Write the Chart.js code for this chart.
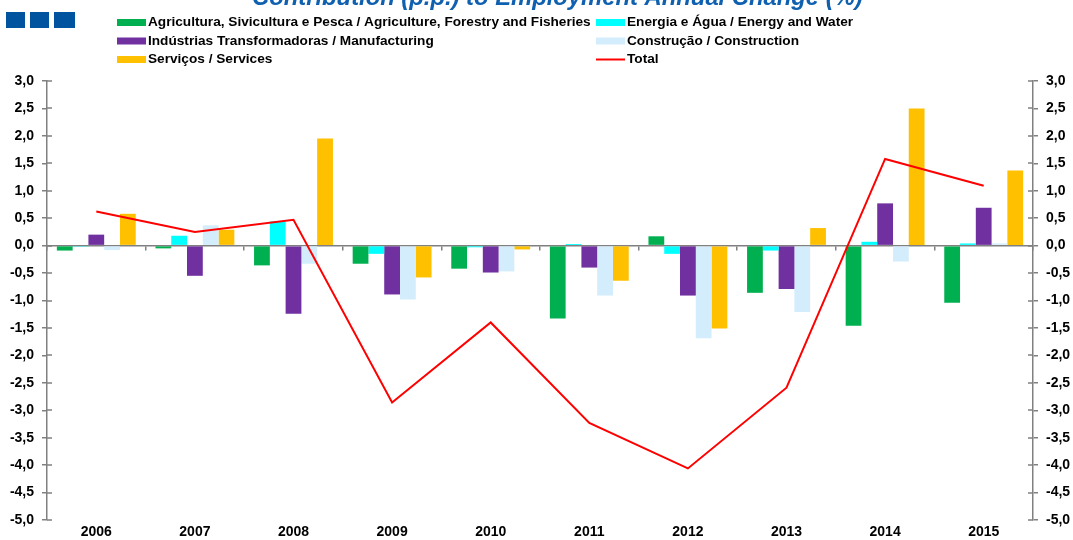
<!DOCTYPE html>
<html>
<head>
<meta charset="utf-8">
<script src="https://cdn.jsdelivr.net/npm/chart.js@4.4.1/dist/chart.umd.min.js"></script>
<style>
html,body{margin:0;padding:0;background:#fff;}
#wrap{width:1073px;height:540px;position:relative;}
</style>
</head>
<body>
<div id="wrap"><canvas id="c" width="1073" height="540"></canvas></div>
<script>
const titleText = 'Contribution (p.p.) to Employment Annual Change (%)';
const categories = ['2006','2007','2008','2009','2010','2011','2012','2013','2014','2015'];
const seriesNames = [
  'Agricultura, Sivicultura e Pesca / Agriculture, Forestry and Fisheries',
  'Energia e Água / Energy and Water',
  'Indústrias Transformadoras / Manufacturing',
  'Construção / Construction',
  'Serviços / Services',
  'Total'
];
const agriculture   = [-0.09, -0.05, -0.36, -0.33, -0.42, -1.33,  0.17, -0.86, -1.46, -1.04];
const energy        = [-0.02,  0.18,  0.44, -0.15, -0.03,  0.03, -0.15, -0.09,  0.07,  0.04];
const manufacturing = [ 0.20, -0.55, -1.24, -0.89, -0.49, -0.40, -0.91, -0.79,  0.77,  0.69];
const construction  = [-0.08,  0.37, -0.33, -0.98, -0.47, -0.91, -1.69, -1.21, -0.29,  0.04];
const services      = [ 0.58,  0.29,  1.95, -0.58, -0.07, -0.64, -1.51,  0.32,  2.50,  1.37];
const total         = [ 0.62,  0.25,  0.47, -2.86, -1.40, -3.23, -4.06, -2.59,  1.58,  1.09];
const yMin = -5, yMax = 3, yStep = 0.5;

const colors = ['#00B050','#00FFFF','#7030A0','#D3EDFD','#FFC000','#FF0000'];
const barSeries = [agriculture, energy, manufacturing, construction, services];
const gray = '#808080';
const fontFam = 'Arial, "Liberation Sans", sans-serif';

const datasets = barSeries.map((d,i)=>({
  type:'bar', label: seriesNames[i], data: d, backgroundColor: colors[i],
  borderWidth: 0, order: 1, yAxisID:'y', xAxisID:'x'
}));
datasets.push({
  type:'line', label: seriesNames[5], data: total, borderColor: colors[5],
  borderWidth: 2, pointRadius: 0, tension: 0, fill:false, order: 0, yAxisID:'y', xAxisID:'x'
});

const decor = {
  id:'decor',
  afterDraw(chart){
    const ctx = chart.ctx;
    ctx.save();
    // logo squares
    ctx.fillStyle = '#00539F';
    [[6,19],[30,19],[54,21]].forEach(([x,w])=>ctx.fillRect(x,12,w,16));
    // inner halves of the y-axis tick marks (ticks cross the axis line)
    ctx.strokeStyle = gray; ctx.lineWidth = 1.5;
    ['y','y2'].forEach(id=>{
      const s = chart.scales[id];
      const bx = id==='y' ? chart.chartArea.left : chart.chartArea.right;
      const dir = id==='y' ? 1 : -1;
      s.ticks.forEach(t=>{
        const py = Math.round(s.getPixelForValue(t.value));
        ctx.beginPath(); ctx.moveTo(bx, py); ctx.lineTo(bx+dir*5, py); ctx.stroke();
      });
    });
    // title (clipped at top)
    let fs = 24;
    ctx.font = 'italic bold '+fs+'px '+fontFam;
    let w = ctx.measureText(titleText).width;
    fs = fs*611/w;
    ctx.font = 'italic bold '+fs.toFixed(2)+'px '+fontFam;
    ctx.fillStyle = '#1060B0';
    ctx.textBaseline = 'alphabetic';
    ctx.textAlign = 'left';
    ctx.fillText(titleText, 252, 5);
    // legend
    let lf = 12;
    ctx.font = 'bold '+lf+'px '+fontFam;
    const w0 = ctx.measureText(chart.data.datasets[0].label).width;
    lf = lf*443/w0;
    ctx.font = 'bold '+lf.toFixed(2)+'px '+fontFam;
    ctx.textBaseline = 'middle';
    const colX = [117, 596];
    const rowY = [22.5, 41, 59.5];
    chart.data.datasets.forEach((ds,i)=>{
      const col = i%2, row = Math.floor(i/2);
      const x = colX[col], y = rowY[row];
      if(ds.type==='line'){
        ctx.strokeStyle = ds.borderColor; ctx.lineWidth = 2;
        ctx.beginPath(); ctx.moveTo(x, y); ctx.lineTo(x+29, y); ctx.stroke();
      } else {
        ctx.fillStyle = ds.backgroundColor;
        ctx.fillRect(x, y-3.5, 29, 7);
      }
      ctx.fillStyle = '#000';
      ctx.fillText(ds.label, x+31, y);
    });
    ctx.restore();
  }
};

const fmt = v => (Math.round(v*10)/10).toFixed(1).replace('.',',');
const tickFont = { family:fontFam, size:14, weight:'bold' };

new Chart(document.getElementById('c'), {
  data: { labels: categories, datasets },
  plugins: [decor],
  options: {
    responsive:false, animation:false,
    layout:{ padding:{ top:81, left:0, right:0, bottom:0 } },
    datasets:{ bar:{ categoryPercentage:0.8, barPercentage:1.0 } },
    plugins:{ legend:{display:false}, title:{display:false}, tooltip:{enabled:false} },
    scales:{
      x:{
        type:'category', position:'bottom', offset:true,
        grid:{ display:false, drawTicks:false },
        border:{ display:false },
        ticks:{ color:'#000', font:tickFont, padding:4, maxRotation:0 },
        afterFit(s){ s.height = 20; }
      },
      x2:{
        type:'category', labels: categories, position:{ y:0 }, offset:true,
        grid:{ display:true, offset:true, drawOnChartArea:false, drawTicks:true, tickLength:4, color:gray, lineWidth:1.5 },
        border:{ display:true, color:gray, width:1.5 },
        ticks:{ display:false }
      },
      y:{
        type:'linear', position:'left', min:yMin, max:yMax,
        grid:{ display:true, drawOnChartArea:false, drawTicks:true, tickLength:5, color:gray, lineWidth:1.5 },
        border:{ display:true, color:gray, width:1.5 },
        ticks:{ stepSize:yStep, color:'#000', font:tickFont, padding:8, callback:fmt },
        afterFit(s){ s.width = 47; }
      },
      y2:{
        type:'linear', position:'right', min:yMin, max:yMax,
        grid:{ display:true, drawOnChartArea:false, drawTicks:true, tickLength:5, color:gray, lineWidth:1.5 },
        border:{ display:true, color:gray, width:1.5 },
        ticks:{ stepSize:yStep, color:'#000', font:tickFont, padding:8, callback:fmt },
        afterFit(s){ s.width = 40; }
      }
    }
  }
});
</script>
</body>
</html>
